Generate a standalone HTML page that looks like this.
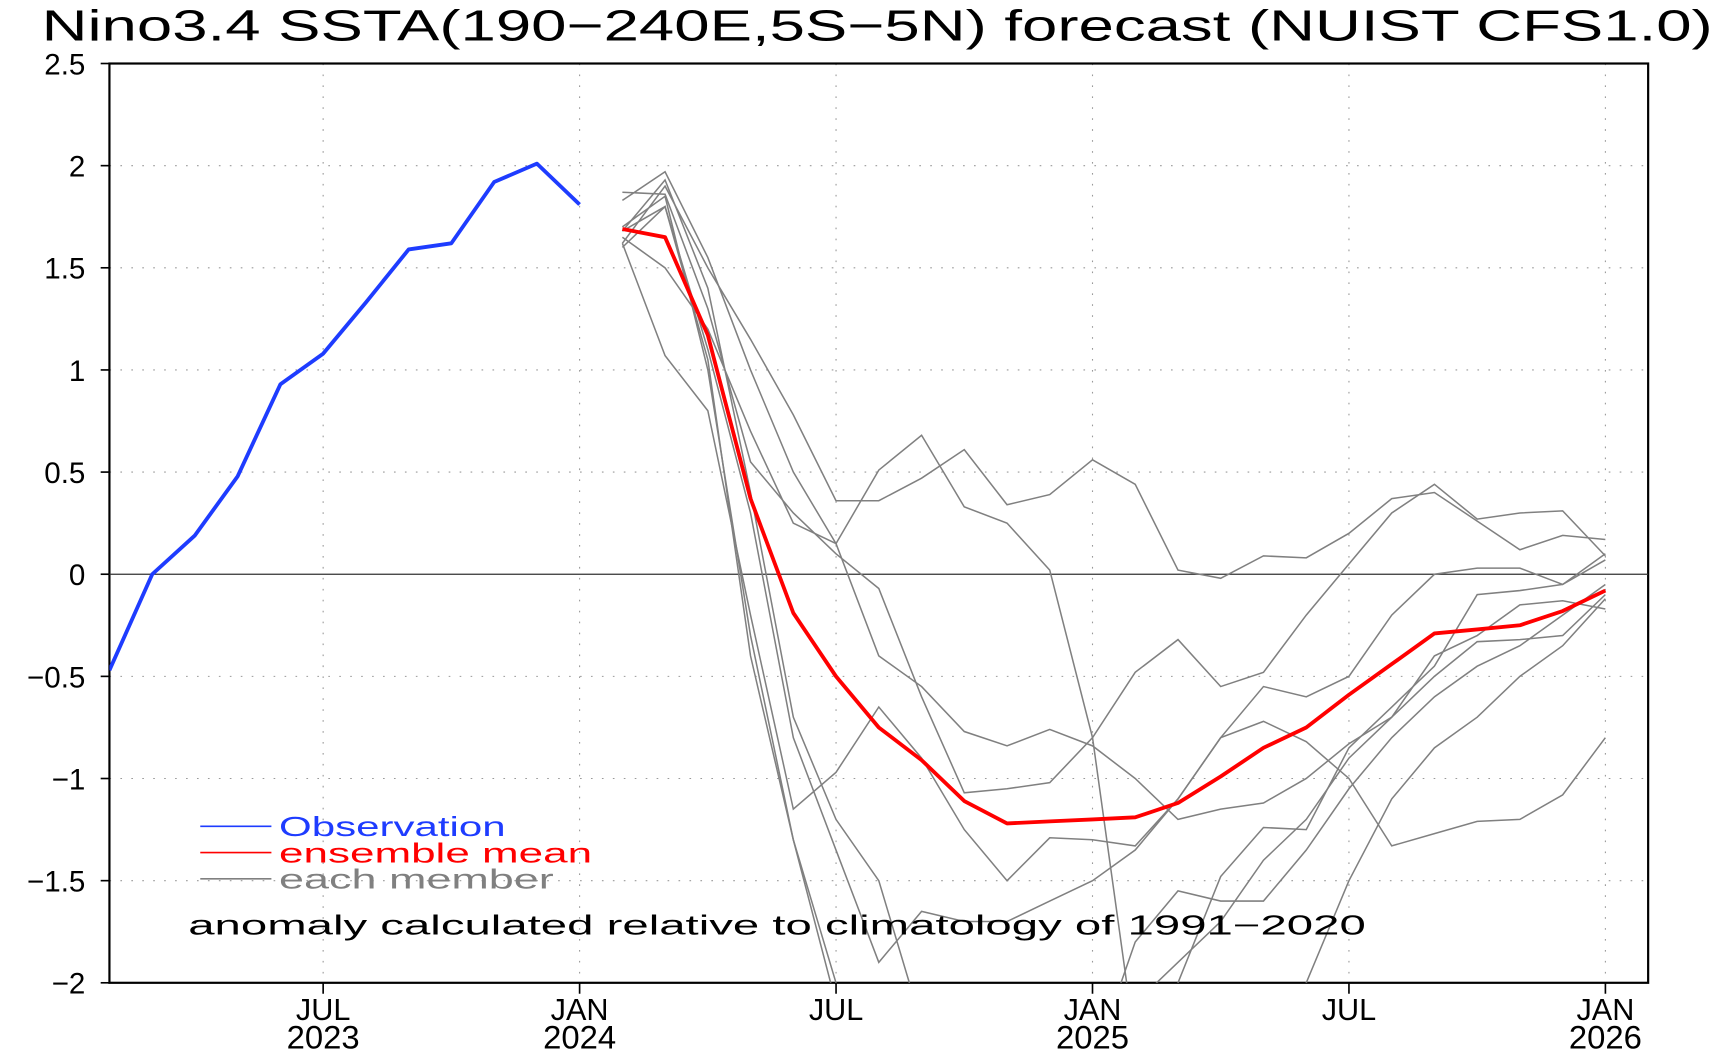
<!DOCTYPE html>
<html><head><meta charset="utf-8"><style>
html,body{margin:0;padding:0;background:#fff;overflow:hidden;width:1716px;height:1052px;}
svg{display:block;}
text{font-family:"Liberation Sans",sans-serif;}
</style></head><body>
<svg id="chart" width="1716" height="1052" viewBox="0 0 1568 961.2" xmlns="http://www.w3.org/2000/svg">
<rect x="0" y="0" width="1568" height="962" fill="#fff"/>
<text x="38" y="37" font-size="40" textLength="1527" lengthAdjust="spacingAndGlyphs">Nino3.4 SSTA(190−240E,5S−5N) forecast (NUIST CFS1.0)</text>
<g id="grid"></g>
<g id="axes"></g>
<defs><clipPath id="clip"><rect x="100" y="58" width="1406" height="840"/></clipPath></defs>
<g id="members" clip-path="url(#clip)"></g>
<g id="series" clip-path="url(#clip)"></g>
<g>
<line x1="183" y1="755" x2="248" y2="755" stroke="#1e3cff" stroke-width="1.5"/>
<text x="255" y="764" font-size="25" fill="#1e3cff" textLength="207" lengthAdjust="spacingAndGlyphs">Observation</text>
<line x1="183" y1="779" x2="248" y2="779" stroke="#f00" stroke-width="1.5"/>
<text x="255" y="788" font-size="25" fill="#f00" textLength="286" lengthAdjust="spacingAndGlyphs">ensemble mean</text>
<line x1="183" y1="803" x2="248" y2="803" stroke="#808080" stroke-width="1.5"/>
<text x="255" y="812" font-size="25" fill="#808080" textLength="251" lengthAdjust="spacingAndGlyphs">each member</text>
</g>
<text x="172" y="854" font-size="25" textLength="1076" lengthAdjust="spacingAndGlyphs">anomaly calculated relative to climatology of 1991−2020</text>
</svg>
<script>
const yTicks=[2.5,2,1.5,1,0.5,0,-0.5,-1,-1.5,-2];
const yTickLabels=["2.5","2","1.5","1","0.5","0","−0.5","−1","−1.5","−2"];
const xTickMonths=[5,11,17,23,29,35];
const xTickTop=["JUL","JAN","JUL","JAN","JUL","JAN"];
const xTickBottom=["2023","2024","","2025","","2026"];
const obsStart=0;
const observation=[-0.47,0.0,0.19,0.48,0.93,1.08,1.33,1.59,1.62,1.92,2.01,1.81];
const fcstStart=12;
const ensembleMean=[1.69,1.65,1.17,0.37,-0.19,-0.5,-0.75,-0.91,-1.11,-1.22,-1.21,-1.20,-1.19,-1.12,-0.99,-0.85,-0.75,-0.59,-0.44,-0.29,-0.27,-0.25,-0.18,-0.08];
const member1=[1.62,1.9,1.5,1.15,0.78,0.36,0.36,0.47,0.61,0.34,0.39,0.56,0.44,0.02,-0.02,0.09,0.08,0.2,0.37,0.40,0.26,0.12,0.19,0.17];
const member2=[1.83,1.97,1.55,1.0,0.5,0.15,0.51,0.68,0.33,0.25,0.02,-0.8,-2.3,-2.6,-2.6,-2.4,-2.0,-1.5,-1.1,-0.85,-0.7,-0.5,-0.35,-0.12];
const member3=[1.7,1.85,1.0,-0.3,-1.3,-2.0,-2.6,-2.8,-2.8,-2.8,-2.8,-2.4,-1.8,-1.55,-1.6,-1.6,-1.35,-1.05,-0.8,-0.6,-0.45,-0.35,-0.2,-0.05];
const member4=[1.6,1.8,1.05,-0.4,-1.3,-2.1,-2.9,-3,-3,-3,-3,-3,-2.6,-2.0,-1.48,-1.24,-1.25,-0.85,-0.65,-0.45,-0.1,-0.08,-0.05,0.1];
const member5=[1.62,1.07,0.8,-0.2,-1.15,-0.97,-0.65,-0.9,-1.25,-1.5,-1.29,-1.3,-1.33,-1.1,-0.8,-0.72,-0.82,-1.0,-1.33,-1.27,-1.21,-1.2,-1.08,-0.8];
const member6=[1.65,1.5,1.2,0.7,0.25,0.15,-0.4,-0.55,-0.77,-0.84,-0.76,-0.84,-1.0,-1.2,-1.15,-1.12,-1.0,-0.83,-0.7,-0.5,-0.33,-0.32,-0.3,-0.1];
const member7=[1.87,1.86,1.3,0.55,0.3,0.1,-0.07,-0.6,-1.07,-1.05,-1.02,-0.8,-0.48,-0.32,-0.55,-0.48,-0.2,0.05,0.3,0.44,0.27,0.3,0.31,0.09];
const member8=[1.68,1.8,1.1,0.3,-0.8,-1.35,-1.9,-1.65,-1.7,-1.7,-1.6,-1.5,-1.35,-1.1,-0.8,-0.55,-0.6,-0.5,-0.2,0.0,0.03,0.03,-0.05,0.07];
const member9=[1.68,1.93,1.4,0.4,-0.7,-1.2,-1.5,-2.2,-2.6,-2.8,-2.8,-2.4,-2.1,-1.9,-1.7,-1.4,-1.2,-0.9,-0.7,-0.4,-0.3,-0.15,-0.13,-0.17];
const members=[member1,member2,member3,member4,member5,member6,member7,member8,member9];

const NS="http://www.w3.org/2000/svg";
const X0=100,X1=1506,Y0=58,Y1=898,MW=(X1-X0)/36;
function xs(m){return X0+m*MW;}
function ys(v){return Y1-(v+2)*(Y1-Y0)/4.5;}
function mk(tag,attrs,parent){const e=document.createElementNS(NS,tag);for(const k in attrs)e.setAttribute(k,attrs[k]);parent.appendChild(e);return e;}
const grid=document.getElementById('grid'),axes=document.getElementById('axes');
yTicks.forEach((v,i)=>{
  if(v!==2.5&&v!==-2&&v!==0){const l=mk('line',{x1:X0,x2:X1,y1:ys(v),y2:ys(v),stroke:'#999','stroke-width':1,'stroke-dasharray':'1.5 8.5'},grid);
  
  }
  const t=mk('line',{x1:X0-8,x2:X0,y1:ys(v),y2:ys(v),stroke:'#000','stroke-width':1.5},axes);
  
  
  const tx=mk('text',{x:X0-22,y:ys(v)+10,'font-size':27,'text-anchor':'end'},axes);
  
  
  tx.textContent=yTickLabels[i];
});
xTickMonths.forEach((m,i)=>{
  const g=mk('line',{x1:xs(m),x2:xs(m),y1:Y0,y2:Y1,stroke:'#999','stroke-width':1,'stroke-dasharray':'1.5 8.5'},grid);
  
  
  const t=mk('line',{x1:xs(m),x2:xs(m),y1:Y1,y2:Y1+10,stroke:'#000','stroke-width':1.5},axes);
  
  
  const a=mk('text',{x:xs(m),y:Y1+34,'font-size':28,'text-anchor':'middle'},axes);
  
  
  a.textContent=xTickTop[i];
  if(xTickBottom[i]){const b=mk('text',{x:xs(m),y:Y1+60,'font-size':30,'text-anchor':'middle'},axes);
  
  
  b.textContent=xTickBottom[i];}
});
const frame=mk('rect',{x:X0,y:Y0,width:X1-X0,height:Y1-Y0,fill:'none',stroke:'#000','stroke-width':2},axes);


const zero=mk('line',{x1:X0,x2:X1,y1:ys(0),y2:ys(0),stroke:'#333','stroke-width':1.2},axes);


function pts(arr,start){return arr.map((v,i)=>xs(start+i).toFixed(1)+','+ys(v).toFixed(1)).join(' ');}
const mg=document.getElementById('members');
members.forEach((arr,k)=>{
  const p=mk('polyline',{points:pts(arr,fcstStart),fill:'none',stroke:'#808080','stroke-width':1.4},mg);
  
  
});
const sg=document.getElementById('series');
const ob=mk('polyline',{points:pts(observation,obsStart),fill:'none',stroke:'#1e3cff','stroke-width':3.5,'stroke-linejoin':'round'},sg);


const em=mk('polyline',{points:pts(ensembleMean,fcstStart),fill:'none',stroke:'#f00','stroke-width':3.5,'stroke-linejoin':'round'},sg);


</script>
</body></html>
